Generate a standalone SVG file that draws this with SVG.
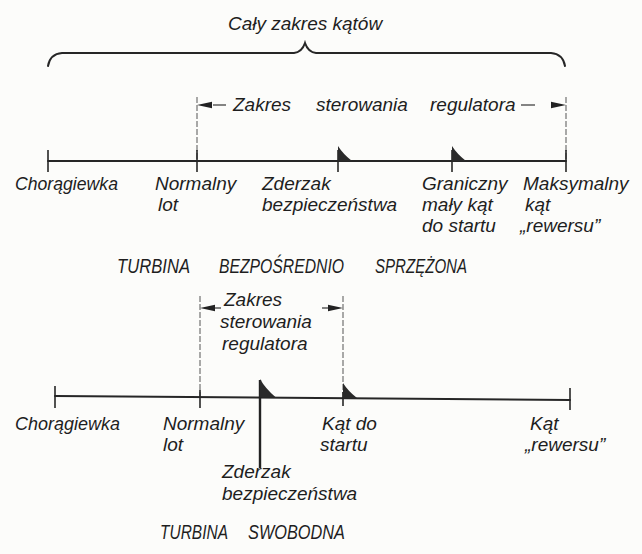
<svg xmlns="http://www.w3.org/2000/svg" width="642" height="554" viewBox="0 0 642 554">
  <style>
    .t { font-family: "Liberation Sans", Arial, sans-serif; font-style: italic; font-size: 19px; fill: #1e1e1e; }
    .cap { font-family: "Liberation Sans", Arial, sans-serif; font-style: italic; font-size: 21px; fill: #1e1e1e; }
    .axis { stroke: #262626; stroke-width: 2; fill: none; stroke-linecap: round; }
    .tick { stroke: #262626; stroke-width: 1.6; fill: none; }
    .ext { stroke: #555; stroke-width: 1; fill: none; stroke-dasharray: 6 2; }
    .dim { stroke: #333; stroke-width: 1.2; fill: none; }
    .stop { fill: #2a2a2a; }
    .head { fill: #222; }
  </style>
  <defs>
    <!-- stop flag drawn on an axis: vertical edge at x=0, base on the axis -->
    <path id="flag" d="M0,0 L0,-15 Q5,-7 14,0 Z"/>
    <!-- dimension arrowhead pointing left, tip at origin -->
    <path id="arrL" d="M0,0 L15,-3.2 L15,3.2 Z"/>
  </defs>
  <rect width="642" height="554" fill="#fcfcfa"/>

  <!-- ===== Upper scale: directly coupled turbine ===== -->
  <g id="full-range">
    <path class="axis" d="M48,66 Q50,54 62,53 L294,53 Q302,52 305,43 Q308,52 316,53 L551,53 Q563,54 565,66"/>
    <text class="t" x="228" y="30">Cały zakres kątów</text>
  </g>

  <g id="connectors">
    <!-- governor range dimension, upper scale -->
    <line class="ext" x1="197" y1="97" x2="197" y2="160"/>
    <line class="ext" x1="566" y1="97" x2="566" y2="160"/>
    <use href="#arrL" class="head" x="197" y="105"/>
    <line class="dim" x1="213" y1="105" x2="226" y2="105"/>
    <line class="dim" x1="521" y1="105" x2="535" y2="105"/>
    <use href="#arrL" class="head" transform="translate(566,105) scale(-1,1)"/>

    <!-- upper axis -->
    <line class="axis" x1="48" y1="161" x2="566" y2="161"/>
    <line class="tick" x1="48" y1="150" x2="48" y2="172"/>
    <line class="tick" x1="197" y1="150" x2="197" y2="172"/>
    <line class="tick" x1="338" y1="150" x2="338" y2="172"/>
    <line class="tick" x1="452" y1="150" x2="452" y2="172"/>
    <line class="tick" x1="566" y1="150" x2="566" y2="172"/>

    <!-- governor range dimension, lower scale -->
    <line class="ext" x1="200" y1="296" x2="200" y2="396"/>
    <line class="ext" x1="343" y1="296" x2="343" y2="398"/>
    <use href="#arrL" class="head" x="200" y="308"/>
    <line class="dim" x1="215" y1="308" x2="221" y2="308"/>
    <line class="dim" x1="322" y1="308" x2="328" y2="308"/>
    <use href="#arrL" class="head" transform="translate(343,308) scale(-1,1)"/>

    <!-- lower axis -->
    <line class="axis" x1="55" y1="396" x2="570" y2="400"/>
    <line class="tick" x1="55" y1="386" x2="55" y2="408"/>
    <line class="tick" x1="200" y1="390" x2="200" y2="408"/>
    <line class="tick" x1="343" y1="392" x2="343" y2="406"/>
    <line class="tick" x1="570" y1="388" x2="570" y2="410"/>
    <!-- safety stop line -->
    <line x1="260" y1="380" x2="260" y2="468" stroke="#222" stroke-width="2.4"/>
  </g>

  <g id="range-label-1">
    <text class="t" x="233" y="111">Zakres</text>
    <text class="t" x="316" y="111">sterowania</text>
    <text class="t" x="430" y="111">regulatora</text>
  </g>

  <g id="u-feather">
    <text class="t" x="15" y="190" textLength="103" lengthAdjust="spacingAndGlyphs">Chorągiewka</text>
  </g>
  <g id="u-normal">
    <text class="t" x="155" y="190">Normalny</text>
    <text class="t" x="158" y="211">lot</text>
  </g>
  <g id="u-stop">
    <use href="#flag" class="stop" x="338" y="161"/>
    <text class="t" x="262" y="190">Zderzak</text>
    <text class="t" x="262" y="211">bezpieczeństwa</text>
  </g>
  <g id="u-takeoff">
    <use href="#flag" class="stop" x="452" y="161"/>
    <text class="t" x="422" y="190">Graniczny</text>
    <text class="t" x="422" y="211">mały kąt</text>
    <text class="t" x="422" y="232">do startu</text>
  </g>
  <g id="u-reverse">
    <text class="t" x="523" y="190">Maksymalny</text>
    <text class="t" x="525" y="211">kąt</text>
    <text class="t" x="520" y="232">„rewersu”</text>
  </g>
  <g id="title-1">
    <text class="cap" x="117" y="273" textLength="73" lengthAdjust="spacingAndGlyphs">TURBINA</text>
    <text class="cap" x="219" y="273" textLength="125" lengthAdjust="spacingAndGlyphs">BEZPOŚREDNIO</text>
    <text class="cap" x="375" y="273" textLength="92" lengthAdjust="spacingAndGlyphs">SPRZĘŻONA</text>
  </g>

  <!-- ===== Lower scale: free turbine ===== -->
  <g id="range-label-2">
    <text class="t" x="224" y="306">Zakres</text>
    <text class="t" x="220" y="328">sterowania</text>
    <text class="t" x="222" y="350">regulatora</text>
  </g>
  <g id="l-feather">
    <text class="t" x="15" y="430" textLength="105" lengthAdjust="spacingAndGlyphs">Chorągiewka</text>
  </g>
  <g id="l-normal">
    <text class="t" x="163" y="430">Normalny</text>
    <text class="t" x="163" y="451">lot</text>
  </g>
  <g id="l-stop">
    <use href="#flag" class="stop" transform="translate(260,397) scale(1.1,1.2)"/>
    <text class="t" x="222" y="478">Zderzak</text>
    <text class="t" x="222" y="500">bezpieczeństwa</text>
  </g>
  <g id="l-takeoff">
    <use href="#flag" class="stop" x="343" y="398"/>
    <text class="t" x="322" y="430">Kąt do</text>
    <text class="t" x="320" y="451">startu</text>
  </g>
  <g id="l-reverse">
    <text class="t" x="530" y="430">Kąt</text>
    <text class="t" x="525" y="451">„rewersu”</text>
  </g>
  <g id="title-2">
    <text class="cap" x="160" y="539" textLength="68" lengthAdjust="spacingAndGlyphs">TURBINA</text>
    <text class="cap" x="248" y="539" textLength="97" lengthAdjust="spacingAndGlyphs">SWOBODNA</text>
  </g>
</svg>
